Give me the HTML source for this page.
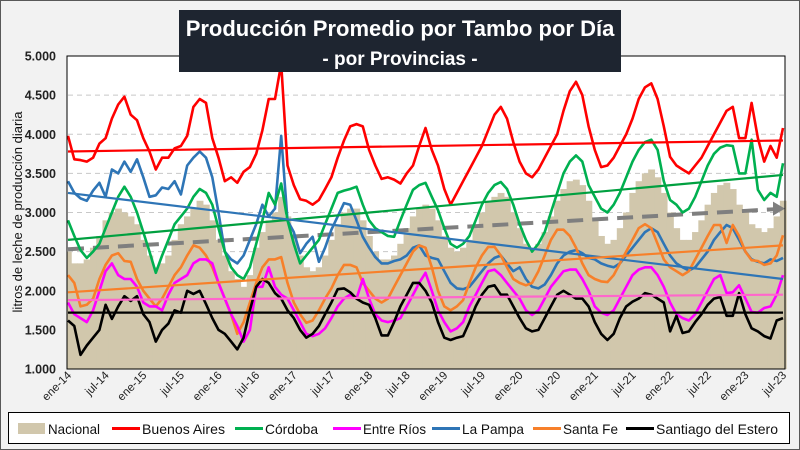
<!DOCTYPE html>
<html><head><meta charset="utf-8">
<style>
html,body{margin:0;padding:0;}
body{width:800px;height:450px;overflow:hidden;background:#f2f2f2;font-family:"Liberation Sans",sans-serif;}
#wrap{position:absolute;left:0;top:0;width:798px;height:448px;border:1px solid #595959;background:#f2f2f2;}
svg{position:absolute;left:0;top:0;}
</style></head>
<body>
<div id="wrap"></div>
<svg id="chart" width="800" height="450"></svg>
<script>
const months = 115; // ene-14 .. jul-23
const tickLabels = ["ene-14","jul-14","ene-15","jul-15","ene-16","jul-16","ene-17","jul-17","ene-18","jul-18","ene-19","jul-19","ene-20","jul-20","ene-21","jul-21","ene-22","jul-22","ene-23","jul-23"];
const yTicks = [1000,1500,2000,2500,3000,3500,4000,4500,5000];
const yTickLabels = ["1.000","1.500","2.000","2.500","3.000","3.500","4.000","4.500","5.000"];

const nacional = [2500,2350,2350,2400,2550,2700,2900,3000,3050,3000,2950,2850,
2650,2450,2300,2350,2450,2650,2850,2950,3050,3150,3100,2900,
2650,2450,2250,2150,2050,2200,2550,2750,2900,3000,3200,2950,
2700,2450,2300,2250,2300,2450,2650,2850,3000,3050,3050,2900,
2700,2500,2400,2400,2450,2600,2800,2950,3050,3100,3050,2900,
2700,2550,2500,2550,2650,2800,3000,3150,3200,3250,3200,3000,
2800,2600,2550,2600,2750,2950,3150,3300,3400,3420,3350,3150,
2900,2700,2600,2650,2800,3000,3250,3400,3500,3550,3450,3250,
3000,2800,2650,2650,2750,2900,3100,3250,3350,3380,3300,3100,
3000,2850,2800,2750,2800,2950,3150];
const buenosAires = [3980,3680,3670,3650,3700,3880,3950,4200,4380,4480,4250,4180,
3950,3780,3550,3700,3700,3820,3850,3980,4350,4450,4400,3950,
3700,3400,3450,3380,3520,3580,3750,4050,4450,4450,4900,3600,
3350,3170,3150,3100,3160,3300,3450,3700,3920,4100,4130,4100,
3800,3600,3430,3450,3420,3370,3500,3600,3850,4080,3800,3600,
3300,3100,3250,3400,3550,3700,3850,4050,4250,4350,4200,3900,
3650,3500,3450,3550,3700,3850,4000,4300,4550,4670,4500,4100,
3800,3580,3600,3700,3850,4000,4200,4450,4600,4650,4450,4100,
3710,3600,3550,3500,3600,3700,3850,4000,4150,4300,4350,3950,
3950,4400,3950,3650,3850,3700,4080];
const cordoba = [2900,2700,2520,2420,2500,2600,2800,3000,3200,3330,3200,3000,
2750,2500,2230,2450,2650,2850,2950,3050,3200,3300,3250,3100,
2800,2500,2300,2200,2150,2300,2600,2900,3250,3100,3370,2900,
2600,2350,2450,2550,2650,2850,3050,3250,3280,3300,3330,3100,
2900,2800,2750,2700,2690,2900,3100,3290,3350,3380,3200,3030,
2800,2600,2550,2600,2700,2900,3100,3250,3350,3390,3300,3100,
2850,2650,2500,2600,2750,3000,3250,3500,3650,3730,3650,3350,
3200,3050,3000,3100,3250,3450,3650,3800,3900,3930,3800,3400,
3160,3100,3000,3050,3200,3400,3600,3750,3830,3860,3850,3500,
3500,3930,3290,3160,3250,3200,3630];
const entreRios = [1850,1700,1650,1600,1750,2000,2250,2350,2200,2150,2150,2050,
1850,1800,1800,1750,1950,2100,2150,2200,2350,2400,2400,2350,
2100,1900,1700,1550,1350,1500,2050,2050,2300,2050,1950,1900,
1750,1600,1450,1420,1450,1520,1650,1800,1900,1950,1900,2150,
1900,1700,1620,1600,1620,1650,1800,1950,2100,2230,2000,1750,
1600,1480,1520,1600,1800,1950,2100,2250,2270,2200,2100,2000,
1900,1750,1690,1750,1900,2050,2150,2250,2270,2270,2150,2000,
1800,1720,1690,1750,1900,2050,2200,2270,2300,2300,2200,2050,
1850,1700,1650,1620,1700,1850,2000,2150,2200,1970,1980,2070,
1900,1730,1720,1780,1800,1950,2200];
const laPampa = [3400,3250,3180,3150,3280,3380,3200,3550,3500,3650,3520,3680,
3450,3200,3220,3320,3300,3400,3230,3600,3700,3780,3700,3450,
3000,2500,2400,2350,2450,2650,2850,3100,2950,3050,3980,2900,
2750,2480,2600,2690,2370,2550,2780,2950,3120,3100,2900,2690,
2550,2430,2350,2350,2380,2400,2450,2550,2580,2450,2420,2400,
2250,2100,2030,2020,2050,2150,2250,2350,2420,2450,2350,2250,
2300,2150,2050,2030,2080,2200,2350,2450,2500,2520,2480,2420,
2400,2350,2320,2300,2350,2450,2550,2650,2750,2800,2750,2600,
2450,2350,2300,2260,2300,2400,2500,2650,2750,2840,2800,2650,
2500,2400,2370,2350,2400,2380,2420];
const santaFe = [2200,2100,1800,1820,1900,2150,2330,2450,2480,2380,2370,2150,
2000,1900,1800,1900,2050,2200,2300,2450,2580,2550,2450,2300,
2100,1900,1700,1450,1600,1850,2100,2300,2400,2400,2430,2100,
1850,1700,1590,1620,1750,1900,2030,2200,2330,2330,2300,2100,
2000,1900,1850,1900,2050,2200,2350,2500,2580,2550,2300,2000,
1800,1750,1800,1880,2100,2300,2450,2560,2560,2450,2300,2150,
2100,2070,2100,2250,2450,2650,2780,2780,2700,2550,2350,2200,
2150,2120,2110,2200,2350,2500,2650,2800,2850,2800,2600,2400,
2300,2250,2200,2250,2400,2550,2700,2840,2840,2610,2840,2700,
2500,2390,2380,2330,2350,2450,2710];
const santiago = [1620,1550,1180,1300,1400,1500,1820,1640,1800,1930,1870,1930,
1700,1600,1350,1500,1580,1750,1720,2000,1960,2000,1830,1650,
1500,1450,1350,1250,1400,1750,2050,2150,2100,1970,1900,1750,
1650,1500,1400,1450,1550,1700,1850,2020,2030,1980,1900,1850,
1820,1650,1430,1430,1600,1800,1950,2100,2100,2000,1850,1600,
1400,1370,1400,1420,1600,1800,1950,2050,2070,1950,1950,1800,
1650,1520,1480,1500,1650,1800,1950,2000,1950,1900,1900,1800,
1600,1450,1370,1450,1650,1800,1860,1900,1970,1950,1900,1850,
1480,1680,1460,1480,1600,1700,1820,1900,1920,1680,1680,1970,
1700,1520,1480,1420,1390,1620,1650];

const trendNacional = [2530,3050];
const trendBA = [3780,3920];
const trendCordoba = [2650,3480];
const trendER = [1880,1950];
const trendLP = [3250,2150];
const trendSF = [1980,2580];
const trendSdE = [1720,1720];

const NS = "http://www.w3.org/2000/svg";
const svg = document.getElementById('chart');
const PL = 68, PR = 783, PT = 56, PB = 369;
const step = (PR - PL) / (months - 1);
function xs(i){ return PL + i * step; }
function ys(v){ return PB - (v - 1000) / 4000 * (PB - PT); }
function mk(tag, attrs){ const e = document.createElementNS(NS, tag); for (const k in attrs) e.setAttribute(k, attrs[k]); svg.appendChild(e); return e; }

const bg = mk('rect', {x:PL-1, y:PT, width:PR-PL+3, height:PB-PT, fill:'#ffffff', stroke:'none'});



yTicks.forEach((t, k) => {
  if (t === 1000 || t === 5000) return;
  const g = mk('line', {x1:PL, x2:PR+2, y1:ys(t), y2:ys(t), stroke:'#c8c8c8', 'stroke-width':1, 'stroke-dasharray':'5,4'});
  
  
});

nacional.forEach((v, i) => {
  const r = mk('rect', {x:xs(i)-step/2, y:ys(v), width:step+0.6, height:PB-ys(v), fill:'#d1c7ac'});
  
  
});
const cover = mk('rect', {x:PL-step, y:PT, width:step-1, height:PB-PT+1, fill:'#f2f2f2'});



function trend(arr, color, w, name, dash){
  const a = {x1:xs(0), y1:ys(arr[0]), x2:xs(months-1), y2:ys(arr[1]), stroke:color, 'stroke-width':w};
  if (dash) a['stroke-dasharray'] = dash;
  const l = mk('line', a);
  
  
  return l;
}
function series(arr, color, name){
  const p = mk('polyline', {points: arr.map((v,i)=>xs(i).toFixed(1)+','+ys(v).toFixed(1)).join(' '), fill:'none', stroke:color, 'stroke-width':2.6, 'stroke-linejoin':'round'});
  
  
}

const tn = trend([trendNacional[0], trendNacional[1]], '#7f7f7f', 4, 'nacional-trend', '16,9');
tn.setAttribute('x2', xs(months-1)-8);
tn.setAttribute('y2', ys(trendNacional[1]) + 0.6);
const ax = xs(months-1), ay = ys(trendNacional[1]);
const arrow = mk('polygon', {points:(ax+2)+','+ay+' '+(ax-10)+','+(ay-7)+' '+(ax-10)+','+(ay+7), fill:'#7f7f7f'});



series(laPampa, '#2e75b6', 'la-pampa-line');
series(cordoba, '#00b050', 'cordoba-line');
series(santaFe, '#f7802a', 'santa-fe-line');
series(entreRios, '#ff00ff', 'entre-rios-line');
series(santiago, '#000000', 'santiago-line');
series(buenosAires, '#ff0000', 'buenos-aires-line');

trend(trendBA, '#ff0000', 2.2, 'buenos-aires-trend');
trend(trendCordoba, '#00a040', 2.2, 'cordoba-trend');
trend(trendLP, '#2e75b6', 2.2, 'la-pampa-trend');
trend(trendSF, '#f7802a', 2.2, 'santa-fe-trend');
trend(trendER, '#ff66cc', 2.2, 'entre-rios-trend');
trend(trendSdE, '#000000', 2.2, 'santiago-trend');

const bd = mk('rect', {x:PL-1, y:PT, width:PR-PL+3, height:PB-PT, fill:'none', stroke:'#000', 'stroke-width':1});



yTicks.forEach((t, k) => {
  const tx = mk('text', {x:56, y:ys(t)+4.5, 'text-anchor':'end', 'font-size':12.5, 'font-weight':'bold', fill:'#222'});
  tx.textContent = yTickLabels[k];
  
  
});
tickLabels.forEach((lab, k) => {
  const i = Math.min(k*6, months-1);
  const x = xs(i) + 4, y = 376;
  const tx = mk('text', {x:x, y:y, 'text-anchor':'end', 'font-size':11.5, fill:'#222', transform:'rotate(-45 '+x+' '+y+')'});
  tx.textContent = lab;
  
  
});
const yt = mk('text', {x:0, y:0, 'text-anchor':'middle', 'font-size':13, fill:'#111', transform:'translate(22 212) rotate(-90)'});
yt.textContent = 'litros de leche de producción diaria';



const tb = mk('rect', {x:179, y:10, width:442, height:62, fill:'#1e2530'});


const t1 = mk('text', {x:400, y:36, 'text-anchor':'middle', 'font-size':22, 'font-weight':'bold', fill:'#fff'});
t1.textContent = 'Producción Promedio por Tambo por Día';


const t2 = mk('text', {x:400, y:65, 'text-anchor':'middle', 'font-size':19, 'font-weight':'bold', fill:'#fff'});
t2.textContent = '- por Provincias -';



const lb = mk('rect', {x:8.5, y:412.5, width:781, height:31, fill:'#fff', stroke:'#000', 'stroke-width':1});


const legNames = ['Nacional','Buenos Aires','Córdoba','Entre Ríos','La Pampa','Santa Fe','Santiago del Estero'];
const legColors = ['#d1c7ac','#ff0000','#00b050','#ff00ff','#2e75b6','#f7802a','#000000'];
const legX = [18, 112, 235, 333, 432, 533, 626];
const legTextW = [52, 83, 53, 63, 62, 55, 122];
legNames.forEach((n, k) => {
  const x = legX[k];
  let s;
  if (k === 0) s = mk('rect', {x:x, y:423, width:27, height:11, fill:legColors[k]});
  else s = mk('line', {x1:x, x2:x+28, y1:428.5, y2:428.5, stroke:legColors[k], 'stroke-width':3});
  
  
  const tx = mk('text', {x:x+30, y:434, 'font-size':14, fill:'#111', textLength:legTextW[k], lengthAdjust:'spacingAndGlyphs'});
  tx.textContent = n;
  
  
});
</script>
</body></html>
